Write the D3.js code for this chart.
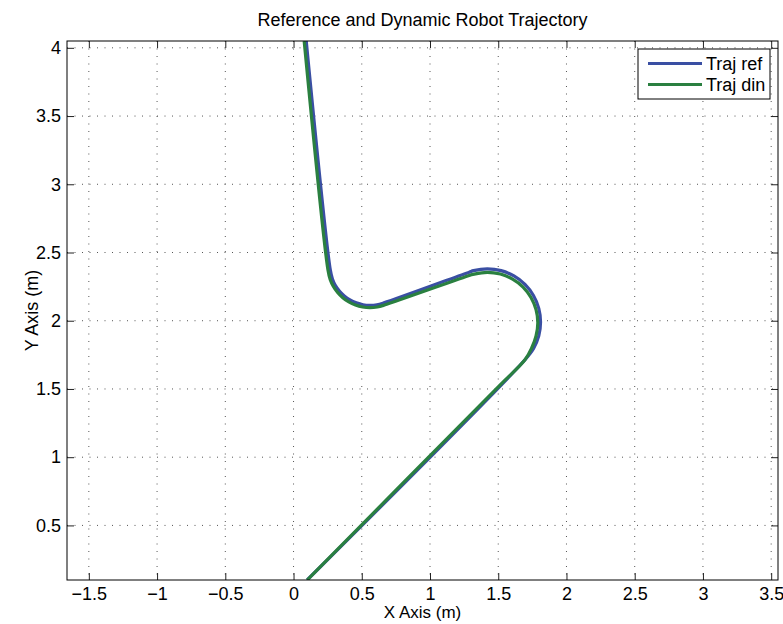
<!DOCTYPE html>
<html>
<head>
<meta charset="utf-8">
<script src="https://cdn.jsdelivr.net/npm/d3@7/dist/d3.min.js"></script>
<style>
  html, body { margin: 0; padding: 0; background: #fff; }
  svg { display: block; font-family: "Liberation Sans", Arial, Helvetica, sans-serif; }
</style>
</head>
<body>
<svg id="chart" width="783" height="624"></svg>
<script>
// ---- data ----
const title = "Reference and Dynamic Robot Trajectory";
const xLabel = "X Axis (m)";
const yLabel = "Y Axis (m)";
const xDomain = [-1.66, 3.55];
const yDomain = [0.1, 4.05];
const xTicks = [-1.5, -1, -0.5, 0, 0.5, 1, 1.5, 2, 2.5, 3, 3.5];
const yTicks = [0.5, 1, 1.5, 2, 2.5, 3, 3.5, 4];
const seriesNames = ["Traj ref", "Traj din"];

// reference trajectory (x, y) in metres
const trajRefX = [0.10, 1.696, 1.758, 1.797, 1.81, 1.797, 1.758, 1.696, 1.615, 1.521, 1.42, 1.319, 1.287,
  0.662, 0.611, 0.56, 0.509, 0.460, 0.414, 0.372, 0.336, 0.306, 0.285, 0.269, 0.093];
const trajRefY = [0.10, 1.714, 1.795, 1.889, 1.99, 2.091, 2.185, 2.266, 2.328, 2.367, 2.38, 2.367, 2.356,
  2.131, 2.117, 2.113, 2.117, 2.131, 2.152, 2.182, 2.218, 2.260, 2.306, 2.375, 4.05];

// dynamic trajectory (x, y) in metres
const trajDinX = [0.10, 1.50, 1.696, 1.745, 1.777, 1.79, 1.777, 1.740, 1.682, 1.605, 1.516, 1.42, 1.324, 1.293,
  0.666, 0.614, 0.56, 0.506, 0.454, 0.405, 0.361, 0.323, 0.292, 0.269, 0.252, 0.078];
const trajDinY = [0.10, 1.516, 1.714, 1.800, 1.889, 1.985, 2.081, 2.170, 2.247, 2.305, 2.342, 2.355, 2.342, 2.333,
  2.115, 2.101, 2.096, 2.101, 2.115, 2.138, 2.169, 2.207, 2.251, 2.300, 2.374, 4.05];

// ---- layout ----
const W = 783, H = 624;
const m = { left: 67, top: 41, right: 5, bottom: 44 };
const pw = W - m.left - m.right;   // 711
const ph = H - m.top - m.bottom;   // 539
const colors = ["#3a4fa3", "#2a8040"];
const fontSize = 18;

const svg = d3.select("#chart");
const x = d3.scaleLinear().domain(xDomain).range([0, pw]);
const y = d3.scaleLinear().domain(yDomain).range([ph, 0]);

const g = svg.append("g").attr("transform", `translate(${m.left},${m.top})`);

const fmt = v => (v < 0 ? "\u2212" : "") + d3.format("")(Math.abs(v));

// grid
g.append("g").selectAll("line").data(xTicks).join("line")
  .attr("x1", d => x(d)).attr("x2", d => x(d)).attr("y1", 0).attr("y2", ph)
  .attr("stroke", "#555").attr("stroke-width", 1).attr("stroke-dasharray", "1,6.5");
g.append("g").selectAll("line").data(yTicks).join("line")
  .attr("y1", d => y(d)).attr("y2", d => y(d)).attr("x1", 0).attr("x2", pw)
  .attr("stroke", "#555").attr("stroke-width", 1).attr("stroke-dasharray", "1,6.5");

// axes (ticks inside on all four sides)
const tickLen = 7;
const axB = d3.axisBottom(x).tickValues(xTicks).tickSize(-tickLen).tickPadding(7).tickFormat(fmt);
const axT = d3.axisTop(x).tickValues(xTicks).tickSize(-tickLen).tickFormat("");
const axL = d3.axisLeft(y).tickValues(yTicks).tickSize(-tickLen).tickPadding(6).tickFormat(fmt);
const axR = d3.axisRight(y).tickValues(yTicks).tickSize(-tickLen).tickFormat("");

function styleAxis(sel) {
  sel.select(".domain").remove();
  sel.selectAll(".tick line").attr("stroke", "#222");
  sel.selectAll(".tick text").attr("fill", "#000").attr("font-size", fontSize)
     .attr("font-family", "Liberation Sans, Arial, sans-serif");
}
g.append("g").attr("transform", `translate(0,${ph})`).call(axB).call(styleAxis);
g.append("g").call(axT).call(styleAxis);
g.append("g").call(axL).call(styleAxis);
g.append("g").attr("transform", `translate(${pw},0)`).call(axR).call(styleAxis);

// clip
svg.append("defs").append("clipPath").attr("id", "plotclip")
  .append("rect").attr("width", pw).attr("height", ph);

const line = d3.line().x(d => x(d[0])).y(d => y(d[1])).curve(d3.curveCatmullRom.alpha(0.5));
const refPts = trajRefX.map((v, i) => [v, trajRefY[i]]);
const dinPts = trajDinX.map((v, i) => [v, trajDinY[i]]);

const lines = g.append("g").attr("clip-path", "url(#plotclip)");
[refPts, dinPts].forEach((pts, i) => {
  lines.append("path").datum(pts).attr("d", line)
    .attr("fill", "none").attr("stroke", colors[i]).attr("stroke-width", 3.2)
    .attr("stroke-linejoin", "round").attr("stroke-linecap", "butt");
});

// frame
g.append("rect").attr("width", pw).attr("height", ph)
  .attr("fill", "none").attr("stroke", "#000").attr("stroke-width", 1);

// legend
const lg = g.append("g").attr("transform", `translate(${638 - m.left},${49 - m.top})`);
lg.append("rect").attr("width", 132).attr("height", 50).attr("fill", "#fff").attr("stroke", "#000").attr("stroke-width", 1);
seriesNames.forEach((name, i) => {
  const yy = 14.5 + i * 21;
  lg.append("line").attr("x1", 10).attr("x2", 64).attr("y1", yy).attr("y2", yy)
    .attr("stroke", colors[i]).attr("stroke-width", 3.2);
  lg.append("text").attr("x", 68).attr("y", yy).attr("dy", "0.35em")
    .attr("font-size", fontSize).attr("fill", "#000").text(name);
});

// title & labels
svg.append("text").attr("x", m.left + pw / 2).attr("y", 26).attr("text-anchor", "middle")
  .attr("font-size", fontSize).attr("fill", "#000").text(title);
svg.append("text").attr("x", m.left + pw / 2).attr("y", 618).attr("text-anchor", "middle")
  .attr("font-size", 17).attr("fill", "#000").text(xLabel);
svg.append("text").attr("transform", `translate(38,${m.top + ph / 2}) rotate(-90)`)
  .attr("text-anchor", "middle").attr("font-size", fontSize).attr("fill", "#000").text(yLabel);
</script>
</body>
</html>
